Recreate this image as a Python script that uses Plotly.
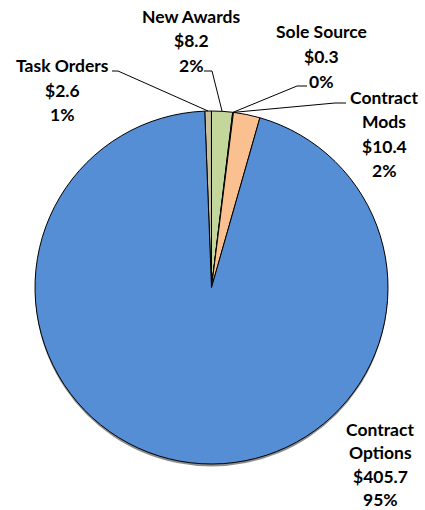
import math

import plotly.graph_objects as go

# slices, clockwise from just left of 12 o'clock
categories = ["Task Orders", "New Awards", "Sole Source", "Contract Mods", "Contract Options"]
label_names = [["Task Orders"], ["New Awards"], ["Sole Source"], ["Contract", "Mods"], ["Contract", "Options"]]
values = [2.6, 8.2, 0.3, 10.4, 405.7]
colors = ["#C9C09C", "#C3D69B", "#7F7F7F", "#FAC090", "#558ED5"]

W, H = 425, 510
CX, CY, R = 211.5, 287.5, 176.5   # pie centre / radius (pixels)
START = -2.2                       # degrees, first slice start (clockwise from top)

# label blocks: centre x, first line y, line step (pixels)
label_pos = [(62, 66, 24.5), (191, 16, 24.5), (321, 31, 25), (384, 97, 24.5), (380, 429, 23.5)]
# leader lines: where on the slice (fraction of its angle), elbow point, end point
leaders = [
    (0.5, (118, 71), (112, 71)),
    (0.5, (212, 71), (204, 71)),
    (0.5, (297, 86), (307, 86)),
    (0.0, (335, 103), (346, 103)),
    None,
]


def px(x, y):
    return x / W, 1 - y / H


total = sum(values)
fig = go.Figure()

x0, y1 = px(CX - R, CY - R)
x1, y0 = px(CX + R, CY + R)
fig.add_trace(go.Pie(
    labels=categories,
    values=values,
    sort=False,
    direction="clockwise",
    rotation=START,
    marker=dict(colors=colors, line=dict(color="#000000", width=1)),
    textinfo="none",
    hoverinfo="label+value+percent",
    showlegend=False,
    domain=dict(x=[x0, x1], y=[y0, y1]),
))

# soft shadow under the pie
sx0, sy1 = px(CX - R, CY - R + 2.5)
sx1, sy0 = px(CX + R, CY + R + 2.5)
fig.add_shape(
    type="circle", xref="paper", yref="paper", layer="below",
    x0=sx0, x1=sx1, y0=sy0, y1=sy1,
    fillcolor="rgba(0,0,0,0.45)", line=dict(width=0),
)

font = dict(family="Lato, Open Sans, sans-serif", size=17.5, color="#000000", weight="bold")
cum = 0.0
for i, v in enumerate(values):
    pct = 100 * v / total
    lines = label_names[i] + [f"${v:.1f}", f"{pct:.0f}%"]
    lx, ly, step = label_pos[i]
    for k, t in enumerate(lines):
        x, y = px(lx, ly + k * step)
        fig.add_annotation(x=x, y=y, xref="paper", yref="paper", text=t,
                           showarrow=False, font=font, xanchor="center", yanchor="middle")

    ld = leaders[i]
    if ld is not None:
        frac, elbow, end = ld
        ang = math.radians(START + 360 * (cum + v * frac) / total)
        ax, ay = CX + R * math.sin(ang), CY - R * math.cos(ang)
        p0, p1, p2 = px(ax, ay), px(*elbow), px(*end)
        fig.add_shape(
            type="path", xref="paper", yref="paper",
            path=f"M {p0[0]},{p0[1]} L {p1[0]},{p1[1]} L {p2[0]},{p2[1]}",
            line=dict(color="#000000", width=1),
        )
    cum += v

fig.update_layout(
    width=W,
    height=H,
    margin=dict(l=0, r=0, t=0, b=0),
    paper_bgcolor="#FFFFFF",
    plot_bgcolor="#FFFFFF",
)

# drop the default 8px page margin so the figure fills the window
fig.write_html(
    "out.html",
    config={"displayModeBar": False},
    post_script="document.body.style.margin='0';document.body.style.overflow='hidden';",
)
